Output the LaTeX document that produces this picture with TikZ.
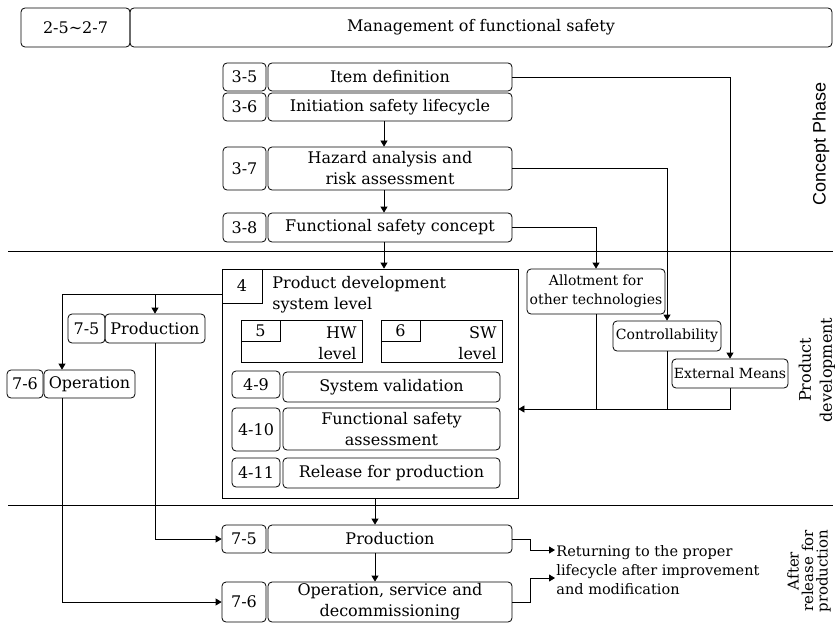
\documentclass[tikz,border=0pt]{standalone}
\usepackage{fontspec}
\setmainfont{DejaVu Serif}
\newfontfamily\lsans{Liberation Sans}
\usetikzlibrary{arrows.meta}
\newcommand\fsA{\fontsize{16}{21}\selectfont}
\newcommand\fsB{\fontsize{14}{19}\selectfont}
\newcommand\fsR{\fontsize{14.5}{19}\selectfont}
\newcommand\fsS{\fontsize{18}{22}\selectfont}
\newcommand\fsT{\fontsize{15}{14.5}\selectfont}
\tikzset{
 base/.style={font=\fsA, inner sep=0pt, line width=0.8pt},
 rbox/.style={base, draw, rounded corners=4pt, align=center},
 sbox/.style={base, draw, align=center},
 arr/.style={line width=0.8pt, -{Triangle[length=6pt,width=7pt]}},
 ln/.style={line width=0.8pt},
 sz/.style 2 args={minimum width=#1pt, minimum height=#2pt},
}
\begin{document}
\begin{tikzpicture}[x=1pt,y=-1pt]
\useasboundingbox (0,0) rectangle (835,623);
% top
\node[rbox, sz={109}{39}] (t1) at (75.5,27.5) {2-5\textasciitilde 2-7};
\node[rbox, sz={702}{39}] (t2) at (481,27.5) {Management of functional safety};
% concept phase
\node[rbox, sz={43}{28}] (s35) at (244.5,77) {3-5};
\node[rbox, sz={244}{28}] (item) at (390,77) {Item definition};
\node[rbox, sz={43}{28}] (s36) at (244.5,107) {3-6};
\node[rbox, sz={244}{28}] (init) at (390,107) {Initiation safety lifecycle};
\node[rbox, sz={43}{43}] (s37) at (244.5,168.5) {3-7};
\node[rbox, sz={244}{43}] (haz) at (390,168.5) {Hazard analysis and\\risk assessment};
\node[rbox, sz={43}{29}] (s38) at (244.5,227.5) {3-8};
\node[rbox, sz={244}{29}] (fsc) at (390,227.5) {Functional safety concept};
\coordinate (colA) at (384,0);
% separators
\draw[ln] (8,251) -- (833,251);
\draw[ln] (8,505) -- (833,505);
% product development box
\node[sbox, sz={296}{229}] (box4) at (370,383.5) {};
\node[sbox, sz={40}{34}] (s4) at (242,286) {4};
\node[base, anchor=north west, align=left] (pdt) at (272,276) {Product development\\system level};
\node[sbox, sz={121}{42}] (hw) at (301.5,341) {};
\node[sbox, sz={39}{21}] (s5) at (260.5,330.5) {5};
\node[base, anchor=east, align=right] (hwt) at (357,343) {HW\\level};
\node[sbox, sz={121}{42}] (sw) at (441.5,341) {};
\node[sbox, sz={39}{21}] (s6) at (400.5,330.5) {6};
\node[base, anchor=east, align=right] (swt) at (497,343) {SW\\level};
\node[rbox, sz={48}{27}] (s49) at (256,384.5) {4-9};
\node[rbox, sz={217}{30}] (sval) at (391.5,387) {System validation};
\node[rbox, sz={48}{43}] (s410) at (256,429.5) {4-10};
\node[rbox, sz={217}{42}] (fsa) at (391.5,429) {Functional safety\\assessment};
\node[rbox, sz={48}{29}] (s411) at (256,472.5) {4-11};
\node[rbox, sz={217}{30}] (rel) at (391.5,473) {Release for production};
% right boxes
\node[rbox, sz={138}{45}, font=\fsB] (allot) at (596,291.5) {Allotment for\\other technologies};
\node[rbox, sz={108}{30}, font=\fsB] (ctrl) at (667,336) {Controllability};
\node[rbox, sz={116}{29}, font=\fsB] (ext) at (730,373.5) {External Means};
% left boxes
\node[rbox, sz={37}{29}] (s75a) at (86.5,328.5) {7-5};
\node[rbox, sz={100}{29}] (prodA) at (155,328.5) {Production};
\node[rbox, sz={36}{28}] (s76a) at (25,384) {7-6};
\node[rbox, sz={91}{28}] (opA) at (89.5,384) {Operation};
% bottom boxes
\node[rbox, sz={44}{28}] (s75b) at (244,539) {7-5};
\node[rbox, sz={244}{28}] (prodB) at (390,539) {Production};
\node[rbox, sz={44}{40}] (s76b) at (244,602) {7-6};
\node[rbox, sz={244}{40}] (opB) at (390,602) {Operation, service and\\decommissioning};
\node[base, font=\fsR, anchor=west, align=left, inner sep=1pt] (ret) at (555,570) {Returning to the proper\\lifecycle after improvement\\and modification};
% phase labels
\node[base, font=\lsans\fsS, rotate=90] (lc1) at (821,144) {Concept Phase};
\node[base, rotate=90, align=center] (lc2) at (817,370) {Product\\development};
\node[base, font=\fsT, rotate=90, align=center] (lc3) at (809,571) {After\\release for\\production};
% vertical flow
\draw[arr] (init.south -| colA) -- (haz.north -| colA);
\draw[arr] (haz.south -| colA) -- (fsc.north -| colA);
\draw[arr] (fsc.south -| colA) -- (box4.north -| colA);
\coordinate (colB) at (375,0);
\draw[arr] (box4.south -| colB) -- (prodB.north -| colB);
\draw[arr] (prodB.south -| colB) -- (opB.north -| colB);
% right branches
\draw[arr] (item.east) -| (ext.north);
\draw[arr] (haz.east) -| (ctrl.north);
\draw[arr] (fsc.east) -| (allot.north);
\coordinate (jn) at (730,409);
\draw[arr] (ext.south) -- (jn) -- (jn -| box4.east);
\draw[ln] (allot.south) -- (allot.south |- jn);
\draw[ln] (ctrl.south) -- (ctrl.south |- jn);
% left branches
\coordinate (lc) at (62,294);
\draw[ln] (box4.west |- lc) -- (lc);
\draw[arr] (lc) -- (lc |- opA.north);
\draw[arr] (prodA.north |- lc) -- (prodA.north);
\draw[arr] (prodA.south) |- (s75b.west);
\draw[arr] (opA.south -| lc) |- (s76b.west);
% return arrows
\coordinate (r1) at (530,550);
\coordinate (r2) at (530,578);
\draw[arr] (prodB.east) -| (r1) -- (r1 -| ret.west);
\draw[arr] (opB.east) -| (r2) -- (r2 -| ret.west);
\end{tikzpicture}
\end{document}
